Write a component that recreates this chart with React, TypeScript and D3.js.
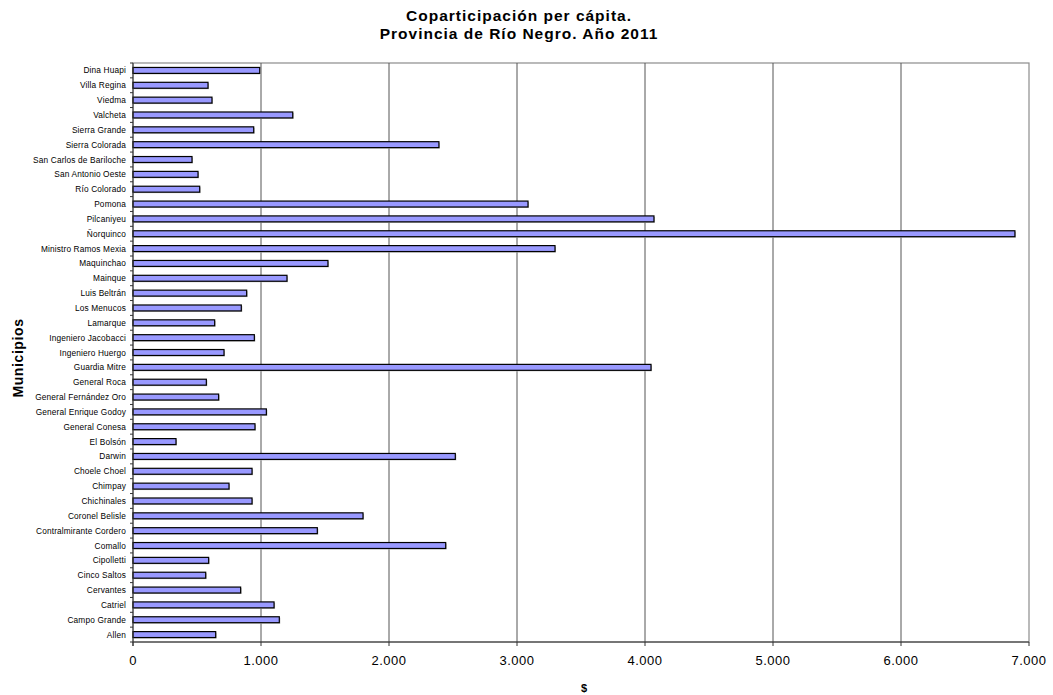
import React from "react";
import * as d3 from "d3";

const municipios = [
  "Dina Huapi", "Villa Regina", "Viedma", "Valcheta", "Sierra Grande", "Sierra Colorada",
  "San Carlos de Bariloche", "San Antonio Oeste", "Río Colorado", "Pomona", "Pilcaniyeu",
  "Ñorquinco", "Ministro Ramos Mexia", "Maquinchao", "Mainque", "Luis Beltrán", "Los Menucos",
  "Lamarque", "Ingeniero Jacobacci", "Ingeniero Huergo", "Guardia Mitre", "General Roca",
  "General Fernández Oro", "General Enrique Godoy", "General Conesa", "El Bolsón", "Darwin",
  "Choele Choel", "Chimpay", "Chichinales", "Coronel Belisle", "Contralmirante Cordero",
  "Comallo", "Cipolletti", "Cinco Saltos", "Cervantes", "Catriel", "Campo Grande", "Allen",
];

const valores = [
  990, 586, 617, 1248, 943, 2390,
  461, 508, 521, 3086, 4070,
  6890, 3297, 1523, 1203, 888, 846,
  638, 948, 711, 4047, 573,
  669, 1042, 953, 336, 2518,
  930, 750, 930, 1797, 1440,
  2443, 591, 568, 841, 1102, 1143, 646,
];

const xTicks = [0, 1000, 2000, 3000, 4000, 5000, 6000, 7000];

const fmt = (v: number) => d3.format(",")(v).replace(/,/g, ".");

export default function App() {
  const W = 1053, H = 695;
  const left = 133, right = 1029, top = 63, bottom = 642;
  const x = d3.scaleLinear().domain([0, 7000]).range([left, right]);
  const y = d3.scaleBand().domain(municipios).range([top, bottom]).paddingInner(0.6).paddingOuter(0.3);
  const band = (bottom - top) / municipios.length;
  const font = "'Liberation Sans', Arial, sans-serif";
  return (
    <svg width={W} height={H} style={{ position: "absolute", left: 0, top: 0 }} fontFamily={font}>
      <rect width={W} height={H} fill="#fff" />
      <text x={519} y={20.5} textAnchor="middle" fontSize={15.5} letterSpacing={1} fontWeight="bold">Coparticipación per cápita.</text>
      <text x={519} y={39} textAnchor="middle" fontSize={15.5} letterSpacing={1} fontWeight="bold">Provincia de Río Negro. Año 2011</text>
      {/* frame */}
      <rect x={left} y={top} width={right - left} height={bottom - top} fill="none" stroke="#8c8c8c" strokeWidth={1.2} />
      {/* grid */}
      {xTicks.slice(1, -1).map((t) => (
        <line key={t} x1={x(t)} x2={x(t)} y1={top} y2={bottom} stroke="#555" strokeWidth={1} />
      ))}
      {/* bars */}
      {municipios.map((m, i) => (
        <g key={m}>
          <rect x={x(0) + 1} y={(y(m) as number) + 1} width={x(valores[i]) - x(0)} height={y.bandwidth()} fill="#bbb" />
          <rect x={x(0)} y={y(m)} width={x(valores[i]) - x(0)} height={y.bandwidth()} fill="#9999ff" stroke="#000" strokeWidth={1.2} />
        </g>
      ))}
      {/* axes */}
      <line x1={left} x2={left} y1={top} y2={bottom + 4} stroke="#333" strokeWidth={1} />
      <line x1={left} x2={right} y1={bottom} y2={bottom} stroke="#333" strokeWidth={1.2} />
      {d3.range(municipios.length + 1).map((i) => (
        <line key={i} x1={left - 3} x2={left} y1={top + i * band} y2={top + i * band} stroke="#333" strokeWidth={1} />
      ))}
      {xTicks.map((t) => (
        <g key={t}>
          <line x1={x(t)} x2={x(t)} y1={bottom} y2={bottom + 4} stroke="#333" strokeWidth={1} />
          <text x={x(t)} y={bottom + 23} textAnchor="middle" fontSize={13} letterSpacing={0.5} fill="#000">{fmt(t)}</text>
        </g>
      ))}
      {municipios.map((m) => (
        <text key={m} x={126} y={(y(m) as number) + y.bandwidth() / 2 + 3} textAnchor="end" fontSize={8.3} letterSpacing={0.15} fill="#000">{m}</text>
      ))}
      <text transform={`translate(23,358) rotate(-90)`} textAnchor="middle" fontSize={14} letterSpacing={0.6} fontWeight="bold">Municipios</text>
      <text x={584} y={692} textAnchor="middle" fontSize={11} fontWeight="bold">$</text>
    </svg>
  );
}
